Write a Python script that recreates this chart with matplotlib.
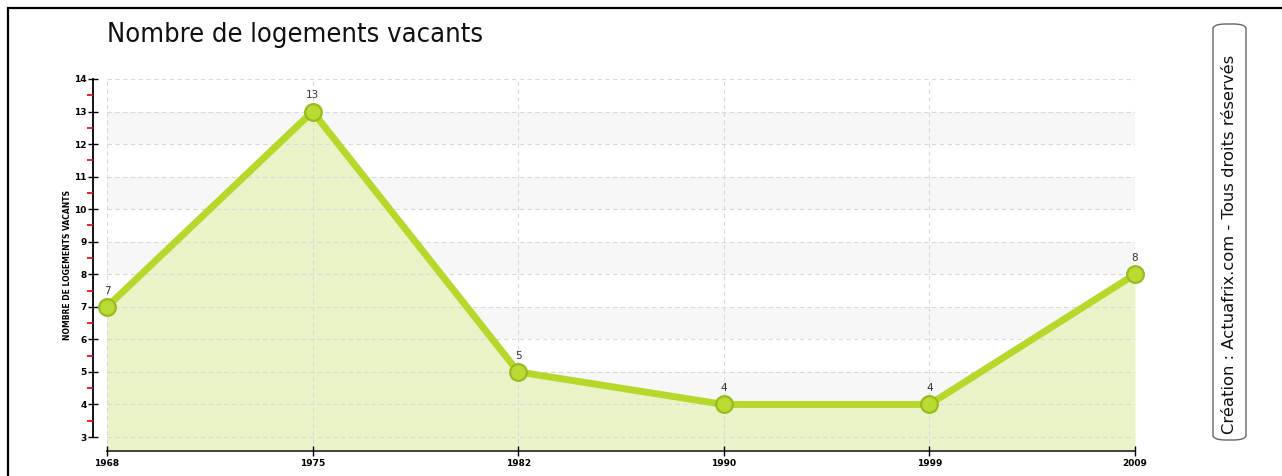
import matplotlib
matplotlib.use("Agg")
import matplotlib.pyplot as plt
from matplotlib.patches import FancyBboxPatch, Rectangle
from matplotlib.ticker import MultipleLocator
import numpy as np

# data
years = ["1968", "1975", "1982", "1990", "1999", "2009"]
vacants = [7, 13, 5, 4, 4, 8]

title = "Nombre de logements vacants"
ylabel = "NOMBRE DE LOGEMENTS VACANTS"
credit = "Création : Actuafrix.com - Tous droits réservés"

line_col = "#b5d82a"
edge_col = "#98bb1c"
fill_col = "#e6f2bb"

W, H = 1282, 476
fig = plt.figure(figsize=(W / 100, H / 100), dpi=100)

# outer frame (top & left visible, running off the edges)
fig.add_artist(Rectangle((8 / W, -0.1), 1.2, (H - 8) / H + 0.1, transform=fig.transFigure,
                         fill=False, lw=1.6, ec="black"))

ax = fig.add_axes([107 / W, (H - 451) / H, 1028 / W, (451 - 79) / H])
x = np.arange(len(years))
ymin, ymax = 2.57, 14

# alternate bands
for lo in range(4, 13, 2):
    ax.axhspan(lo, lo + 1, color="#f7f7f7", zorder=0, lw=0)

ax.fill_between(x, vacants, ymin, color=fill_col, alpha=0.8, zorder=1, lw=0)
ax.plot(x, vacants, color=line_col, lw=5, zorder=3, solid_capstyle="round")
ax.plot(x, vacants, "o", ms=12, mfc="#b9db33", mec=edge_col, mew=1.6, zorder=4, clip_on=False)

for xi, v in zip(x, vacants):
    ax.annotate(str(v), (xi, v), xytext=(0, 8), textcoords="offset points",
                ha="center", va="bottom", fontsize=7.5, color="#333333")

ax.set_xlim(0, len(years) - 1)
ax.set_ylim(ymin, ymax)
ax.set_xticks(x)
ax.set_xticklabels(years)
ax.yaxis.set_major_locator(MultipleLocator(1))
ax.yaxis.set_minor_locator(MultipleLocator(0.5))
ax.set_yticks(np.arange(3, 15))

ax.grid(True, which="major", color="#d9d9d9", ls=(0, (4, 3)), lw=0.8)
ax.set_axisbelow(False)

for s in ["top", "right"]:
    ax.spines[s].set_visible(False)
ax.spines["left"].set_position(("outward", 10))
ax.spines["left"].set_bounds(3, 14)
ax.spines["left"].set_linewidth(1.3)
ax.spines["bottom"].set_linewidth(1.3)
ax.spines["bottom"].set_color("#333333")

ax.tick_params(axis="y", which="major", direction="inout", length=7, width=1,
               labelsize=6.5, pad=1)
ax.tick_params(axis="y", which="minor", direction="out", length=4, width=1.3,
               color="#e8141c")
ax.tick_params(axis="x", direction="inout", length=7, width=1, labelsize=6.5, pad=2)
for lab in ax.get_xticklabels() + ax.get_yticklabels():
    lab.set_fontweight("bold")

ax.set_ylabel(ylabel, fontsize=5.5, fontweight="bold")
ax.yaxis.set_label_coords((72 - 107) / 1028, 0.5)

fig.text(107 / W, 1 - 35 / H, title, fontsize=19.5, stretch="condensed",
         ha="left", va="center", color="#111111")

# credit box on the right
box = FancyBboxPatch((1213 / W, (H - 440) / H), 33 / W, (440 - 24) / H,
                     boxstyle="round,pad=0,rounding_size=0.01", transform=fig.transFigure,
                     fill=False, ec="#666666", lw=1)
fig.add_artist(box)
fig.text(1229.5 / W, (H - 244) / H, credit, rotation=90, fontsize=11.8,
         ha="center", va="center", color="#111111")

fig.savefig("out.png", dpi=100)
